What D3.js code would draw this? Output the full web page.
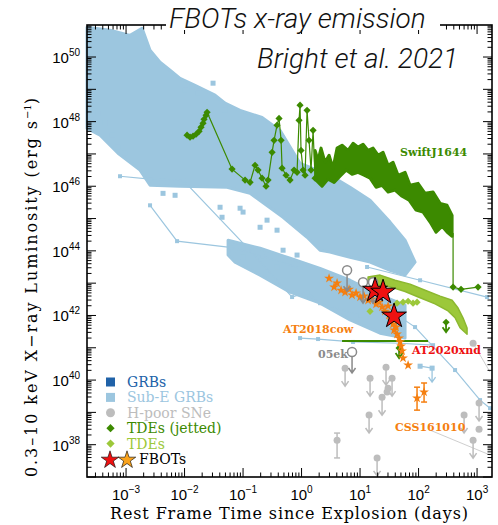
<!DOCTYPE html>
<html>
<head>
<meta charset="utf-8">
<script src="https://cdn.jsdelivr.net/npm/d3@7"></script>
<style>
  body { margin: 0; background: #fff; }
  text { font-family: "DejaVu Serif", serif; }
</style>
</head>
<body>
<div id="chart"></div>
<script>
// every pair is [log10(time / days), log10(L_X / erg s^-1)]
var xTickExp = [-3, -2, -1, 0, 1, 2, 3];
var yTickExp = [38, 40, 42, 44, 46, 48, 50];

// outline of the dense GRB / sub-E GRB cloud
var grbCloud = [[-3.667, 50.92], [-3.274, 50.83], [-2.932, 50.67], [-2.726, 50.89], [-2.590, 50.21],
  [-2.419, 49.84], [-2.248, 49.59], [-2.077, 49.34], [-1.821, 49.12], [-1.479, 48.82], [-1.308, 48.57],
  [-1.051, 48.35], [-0.675, 48.13], [-0.368, 47.73], [-0.162, 47.11], [-0.026, 46.71], [0.487, 46.34],
  [0.829, 45.97], [1.171, 45.57], [1.513, 44.89], [1.769, 44.33], [1.940, 43.65], [1.769, 43.25],
  [1.513, 43.40], [1.171, 43.65], [0.829, 43.80], [0.487, 43.96], [0.316, 44.02], [0.094, 44.42],
  [-0.316, 45.04], [-0.880, 45.78], [-1.274, 45.97], [-2.077, 46.00], [-2.590, 46.03], [-2.761, 46.50],
  [-3.137, 47.02], [-3.444, 47.58], [-3.667, 47.79]];
// lower plateau stream of the cloud
var grbStream = [[-1.256, 44.33], [-0.709, 44.08], [-0.197, 43.77], [0.316, 43.46], [0.829, 43.09],
  [1.342, 42.63], [1.769, 42.32], [1.769, 41.30], [1.342, 41.45], [0.829, 41.86], [0.316, 42.38],
  [-0.197, 42.72], [-0.709, 43.25], [-1.137, 43.65], [-1.256, 43.87]];
var grbStray = [[-2.368, 45.78], [-2.162, 45.72], [-1.393, 45.35], [-1.359, 45.04], [-1.051, 45.32],
  [-1.000, 45.20], [-0.709, 44.73], [-0.590, 44.95], [-0.419, 44.64], [-1.000, 43.80], [-1.171, 44.02],
  [-0.316, 44.02], [-0.419, 43.50], [-0.077, 43.87], [-1.991, 48.97], [-1.872, 49.06], [-1.769, 48.88],
  [-1.513, 49.19], [-1.308, 48.35], [-3.479, 48.26], [-3.359, 47.95], [-3.239, 47.58], [-3.137, 47.21],
  [-3.017, 47.02], [2.026, 40.43], [2.231, 40.37]];
var grbLineA = [[-2.590, 45.41], [-2.128, 44.30], [-1.222, 44.11], [-0.675, 43.84], [-0.026, 43.46]];
var grbLineB = [[-3.103, 46.31], [-2.590, 46.22], [-2.026, 46.19], [-0.932, 44.11], [-0.162, 42.57],
  [0.094, 42.72], [0.316, 42.38], [1.000, 42.01]];
var grbLineC = [[-0.026, 41.30], [0.282, 41.27], [0.880, 41.18], [1.684, 41.14], [2.248, 41.08]];
var grbLineD = [[1.000, 42.79], [1.940, 41.64], [2.624, 40.31], [3.051, 39.38], [3.222, 39.13]];
var grbLineE = [[1.120, 43.50], [2.026, 43.09], [3.171, 42.57]];
var grbLineF = [[2.026, 40.43], [2.231, 40.37]];
var grbLimits = [[2.231, 40.37]];

// Swift J1644+57 (jetted TDE)
var swiftSparse = [[-1.957, 47.58], [-1.906, 47.52], [-1.855, 47.55], [-1.803, 47.61], [-1.752, 47.70],
  [-1.718, 47.83], [-1.684, 47.95], [-1.667, 48.07], [-1.632, 48.20], [-1.615, 48.29], [-1.188, 46.53],
  [-0.966, 46.19], [-0.880, 46.12], [-0.795, 46.65], [-0.744, 46.50], [-0.675, 46.25], [-0.607, 46.00],
  [-0.573, 46.19], [-0.504, 47.05], [-0.470, 47.42], [-0.419, 47.89], [-0.385, 48.10], [-0.350, 47.42],
  [-0.333, 46.56], [-0.265, 46.34], [-0.197, 46.19], [-0.128, 46.50], [-0.077, 46.43], [-0.043, 48.04],
  [-0.026, 48.51], [-0.009, 47.11], [0.026, 46.50], [0.060, 46.34], [0.094, 48.35], [0.128, 47.42],
  [0.162, 46.50], [0.197, 47.73], [0.231, 46.25]];
var swiftDense = [[0.231, 47.11], [0.282, 46.80], [0.333, 47.18], [0.402, 46.74], [0.470, 46.96],
  [0.538, 46.56], [0.607, 47.18], [0.692, 47.27], [0.795, 47.11], [0.880, 47.33], [0.966, 47.21],
  [1.051, 47.30], [1.137, 47.11], [1.222, 47.18], [1.308, 46.96], [1.393, 47.05], [1.479, 46.65],
  [1.564, 46.74], [1.650, 46.34], [1.769, 46.43], [1.855, 46.03], [1.991, 46.09], [2.111, 45.78],
  [2.248, 45.82], [2.368, 45.47], [2.487, 45.41], [2.573, 45.10],
  [2.573, 44.45], [2.487, 44.58], [2.402, 44.76], [2.299, 44.58], [2.197, 44.89], [2.077, 45.20],
  [1.957, 45.26], [1.838, 45.57], [1.718, 45.69], [1.598, 45.88], [1.479, 45.82], [1.376, 46.03],
  [1.274, 45.97], [1.171, 46.25], [1.068, 46.34], [0.966, 46.43], [0.863, 46.37], [0.761, 46.50],
  [0.658, 46.31], [0.556, 46.12], [0.453, 46.22], [0.350, 46.00], [0.248, 46.19]];
var swiftTail = [[2.590, 44.55], [2.590, 42.88], [2.726, 42.81], [3.017, 42.88]];
var jettedLine = [[0.692, 41.21], [2.162, 41.21]];
var jettedLimits = [[2.470, 41.79], [1.667, 40.99]];

// thermal TDEs
var tdeBand = [[1.137, 43.19], [1.342, 43.25], [1.598, 43.09], [1.855, 42.97], [2.111, 42.78],
  [2.368, 42.60], [2.573, 42.47], [2.675, 42.23], [2.761, 41.92], [2.829, 41.61], [2.829, 41.42],
  [2.709, 41.62], [2.624, 41.93], [2.504, 42.14], [2.282, 42.36], [2.026, 42.55], [1.769, 42.74],
  [1.513, 42.89], [1.256, 42.96], [1.137, 43.04]];
var tdePoints = [[1.632, 42.38], [1.735, 42.41], [1.821, 42.44], [1.906, 42.38], [1.974, 42.41], [1.171, 42.13]];

// FBOTs
var at2018cow = [[0.470, 43.15], [0.556, 42.88], [0.607, 43.00], [0.675, 42.78], [0.744, 42.72],
  [0.812, 42.81], [0.863, 42.63], [0.932, 42.69], [1.000, 42.57], [1.068, 42.60], [1.137, 42.47],
  [1.205, 42.51], [1.274, 42.35], [1.325, 42.41], [1.376, 42.26], [1.427, 42.13], [1.479, 42.29],
  [1.496, 42.01], [1.530, 41.86], [1.564, 41.73], [1.581, 41.55], [1.615, 41.64], [1.632, 41.42],
  [1.667, 41.30], [1.684, 41.18], [1.701, 41.05], [1.718, 40.90], [1.735, 40.68], [1.821, 40.46]];
var at2020xnd = [[1.256, 42.78], [1.393, 42.72], [1.581, 41.98]];
var css161010 = [[1.974, 39.44, 39.07, 39.78], [2.094, 39.63, 39.32, 39.91]];

// H-poor SNe
var snOpenLimits = [[0.778, 43.37], [1.051, 43.00], [1.222, 43.00], [0.863, 40.84]];
var snLimits = [[0.744, 40.37], [1.171, 40.06], [1.444, 40.40], [1.547, 40.06], [1.376, 39.47],
  [1.154, 38.92], [1.291, 37.59], [2.778, 38.92], [2.932, 38.14], [3.034, 39.29]];
var snDetections = [[1.462, 39.63], [1.479, 39.75], [3.034, 38.48], [2.932, 41.14]];
var snErrPoints = [[0.607, 38.14, 37.59, 38.36]];
var snLines = [[[2.197, 38.45], [3.222, 37.68]], [[2.932, 41.14], [3.222, 40.25]]];

var legendItems = ["GRBs", "Sub-E GRBs", "H-poor SNe", "TDEs (jetted)", "TDEs", "FBOTs"];

var cLight = "#9cc6df", cDark = "#2062a8", cGrey = "#bdbdbd", cGreyDk = "#8a8a8a",
  cJet = "#3c8a00", cTde = "#9cc83a", cOrange = "#f57f10", cRed = "#ee1111";

var width = 498, height = 525;
var margin = { top: 25, right: 6, bottom: 48, left: 87 };

var x = d3.scaleLog().domain([2.15e-4, 1.8e3]).range([margin.left, width - margin.right]);
var y = d3.scaleLog().domain([1e37, 9.8e50]).range([height - margin.bottom, margin.top]);

function px(d) { return x(Math.pow(10, d[0])); }
function py(d) { return y(Math.pow(10, d[1])); }

var svg = d3.select("#chart").append("svg")
  .attr("width", width).attr("height", height);

var plot = svg.append("g");
var line = d3.line().x(px).y(py);
var poly = d3.line().x(px).y(py).curve(d3.curveLinearClosed);

// thin grey SN lines
snLines.forEach(function (l) {
  plot.append("path").attr("d", line(l)).attr("fill", "none")
    .attr("stroke", "#cfcfcf").attr("stroke-width", 1);
});

// GRB cloud
[grbCloud, grbStream].forEach(function (c) {
  plot.append("path").attr("d", poly(c))
    .attr("fill", cLight).attr("stroke", cLight).attr("stroke-width", 3)
    .attr("stroke-linejoin", "round");
});
plot.selectAll("rect.stray").data(grbStray).enter().append("rect")
  .attr("x", function (d) { return px(d) - 2.5; })
  .attr("y", function (d) { return py(d) - 2.5; })
  .attr("width", 5).attr("height", 5).attr("fill", cLight);

[grbLineA, grbLineB, grbLineC, grbLineD, grbLineE, grbLineF].forEach(function (l) {
  plot.append("path").attr("d", line(l)).attr("fill", "none")
    .attr("stroke", cLight).attr("stroke-width", 1.2);
  plot.selectAll(null).data(l).enter().append("rect")
    .attr("x", function (d) { return px(d) - 2; })
    .attr("y", function (d) { return py(d) - 2; })
    .attr("width", 4).attr("height", 4).attr("fill", cLight);
});

function arrow(g, d, len, color, w) {
  var x0 = px(d), y0 = py(d);
  g.append("path")
    .attr("d", "M" + x0 + "," + y0 + "V" + (y0 + len) +
      "M" + (x0 - 3.5) + "," + (y0 + len - 5) + "L" + x0 + "," + (y0 + len) + "L" + (x0 + 3.5) + "," + (y0 + len - 5))
    .attr("fill", "none").attr("stroke", color).attr("stroke-width", w || 1.3);
}

grbLimits.forEach(function (d) { arrow(plot, d, 14, cLight); });

// H-poor SNe
snLimits.forEach(function (d) { arrow(plot, d, 18, cGrey, 1.5); });
plot.selectAll("circle.snl").data(snLimits.concat(snDetections)).enter().append("circle")
  .attr("cx", px).attr("cy", py).attr("r", 3.5).attr("fill", cGrey);
snErrPoints.forEach(function (d) {
  plot.append("line").attr("x1", px(d)).attr("x2", px(d))
    .attr("y1", y(Math.pow(10, d[2]))).attr("y2", y(Math.pow(10, d[3])))
    .attr("stroke", cGrey).attr("stroke-width", 1.5);
  [d[2], d[3]].forEach(function (v) {
    plot.append("line").attr("x1", px(d) - 3).attr("x2", px(d) + 3)
      .attr("y1", y(Math.pow(10, v))).attr("y2", y(Math.pow(10, v)))
      .attr("stroke", cGrey).attr("stroke-width", 1.5);
  });
  plot.append("circle").attr("cx", px(d)).attr("cy", py(d)).attr("r", 3.5).attr("fill", cGrey);
});

// Swift J1644
plot.append("path").attr("d", line(swiftSparse.concat([swiftDense[0]])))
  .attr("fill", "none").attr("stroke", cJet).attr("stroke-width", 1.2);
plot.append("path").attr("d", poly(swiftDense))
  .attr("fill", cJet).attr("stroke", cJet).attr("stroke-width", 3).attr("stroke-linejoin", "round");
plot.append("path").attr("d", line(swiftTail))
  .attr("fill", "none").attr("stroke", cJet).attr("stroke-width", 1.2);
var diamond = d3.symbol().type(d3.symbolSquare).size(26);
plot.selectAll("path.sw").data(swiftSparse.concat(swiftTail.slice(1))).enter().append("path")
  .attr("d", diamond)
  .attr("transform", function (d) { return "translate(" + px(d) + "," + py(d) + ") rotate(45)"; })
  .attr("fill", cJet);
plot.append("path").attr("d", line(jettedLine)).attr("stroke", cJet).attr("stroke-width", 2.2);
jettedLimits.forEach(function (d) { arrow(plot, d, 10, cJet, 1.8); });
plot.selectAll("path.jl").data(jettedLimits).enter().append("path")
  .attr("d", diamond)
  .attr("transform", function (d) { return "translate(" + px(d) + "," + py(d) + ") rotate(45)"; })
  .attr("fill", cJet);

// TDEs
plot.append("path").attr("d", poly(tdeBand))
  .attr("fill", cTde).attr("stroke", "#8cb830").attr("stroke-width", 1.5).attr("stroke-linejoin", "round");
plot.selectAll("path.td").data(tdePoints).enter().append("path")
  .attr("d", d3.symbol().type(d3.symbolSquare).size(26))
  .attr("transform", function (d) { return "translate(" + px(d) + "," + py(d) + ") rotate(45)"; })
  .attr("fill", cTde);

// AT2018cow
var smallStar = d3.symbol().type(d3.symbolStar).size(30);
plot.selectAll("path.cow").data(at2018cow).enter().append("path")
  .attr("d", smallStar)
  .attr("transform", function (d) { return "translate(" + px(d) + "," + py(d) + ")"; })
  .attr("fill", cOrange);

// CSS161010
css161010.forEach(function (d) {
  var x0 = px(d);
  plot.append("line").attr("x1", x0).attr("x2", x0)
    .attr("y1", y(Math.pow(10, d[2]))).attr("y2", y(Math.pow(10, d[3])))
    .attr("stroke", cOrange).attr("stroke-width", 1.5);
  [d[2], d[3]].forEach(function (v) {
    plot.append("line").attr("x1", x0 - 3).attr("x2", x0 + 3)
      .attr("y1", y(Math.pow(10, v))).attr("y2", y(Math.pow(10, v)))
      .attr("stroke", cOrange).attr("stroke-width", 1.5);
  });
  plot.append("path").attr("d", smallStar)
    .attr("transform", "translate(" + x0 + "," + py(d) + ")").attr("fill", cOrange);
});

// open-circle SN limits
snOpenLimits.forEach(function (d) {
  arrow(plot, d, 20, cGreyDk, 1.5);
  plot.append("circle").attr("cx", px(d)).attr("cy", py(d) - 1).attr("r", 4.5)
    .attr("fill", "#fff").attr("stroke", cGreyDk).attr("stroke-width", 1.5);
});

// AT2020xnd
plot.selectAll("path.xnd").data(at2020xnd).enter().append("path")
  .attr("d", d3.symbol().type(d3.symbolStar).size(190))
  .attr("transform", function (d) { return "translate(" + px(d) + "," + py(d) + ")"; })
  .attr("fill", cRed).attr("stroke", "#000").attr("stroke-width", 1);

// annotations
var notes = [
  { t: "SwiftJ1644", x: 400, y: 156, c: cJet },
  { t: "AT2018cow", x: 283, y: 333, c: cOrange },
  { t: "AT2020xnd", x: 412, y: 354, c: cRed },
  { t: "05ek", x: 318, y: 358, c: cGreyDk },
  { t: "CSS161010", x: 395, y: 431, c: cOrange }
];
svg.selectAll("text.note").data(notes).enter().append("text")
  .attr("x", function (d) { return d.x; }).attr("y", function (d) { return d.y; })
  .attr("fill", function (d) { return d.c; })
  .style("font-size", "11px").style("font-weight", "bold")
  .text(function (d) { return d.t; });

// legend
var lg = svg.append("g");
var legendColors = [cDark, cLight, cGrey, cJet, cTde, "#000"];
legendItems.forEach(function (name, i) {
  var yy = 382 + i * 15.4;
  if (i < 2) {
    lg.append("rect").attr("x", 106).attr("y", yy - 4.5).attr("width", 9).attr("height", 9).attr("fill", legendColors[i]);
  } else if (i === 2) {
    lg.append("circle").attr("cx", 110.5).attr("cy", yy).attr("r", 4.5).attr("fill", cGrey);
  } else if (i < 5) {
    lg.append("path").attr("d", d3.symbol().type(d3.symbolSquare).size(34))
      .attr("transform", "translate(110.5," + yy + ") rotate(45)").attr("fill", legendColors[i]);
  } else {
    lg.append("path").attr("d", d3.symbol().type(d3.symbolStar).size(95))
      .attr("transform", "translate(110," + (yy + 1) + ")").attr("fill", cRed).attr("stroke", "#000").attr("stroke-width", 0.6);
    lg.append("path").attr("d", d3.symbol().type(d3.symbolStar).size(95))
      .attr("transform", "translate(127," + (yy + 1) + ")").attr("fill", "#f9a31d").attr("stroke", "#000").attr("stroke-width", 0.6);
  }
  lg.append("text").attr("x", i === 5 ? 139 : 127).attr("y", yy + 5)
    .attr("fill", legendColors[i]).style("font-size", "14px").text(name);
});

// frame and ticks
var x0 = margin.left, x1 = width - margin.right, y0 = margin.top, y1 = height - margin.bottom;
var axes = svg.append("g").attr("stroke", "#000").attr("fill", "none");
for (var e = -4; e <= 3; e++) {
  for (var k = 1; k <= 9; k++) {
    var v = k * Math.pow(10, e);
    if (v < x.domain()[0] || v > x.domain()[1]) continue;
    var len = k === 1 ? 9 : 4.5, xx = x(v);
    axes.append("line").attr("x1", xx).attr("x2", xx).attr("y1", y1).attr("y2", y1 - len).attr("stroke-width", 1);
    axes.append("line").attr("x1", xx).attr("x2", xx).attr("y1", y0).attr("y2", y0 + len).attr("stroke-width", 1);
  }
}
for (var e2 = 37; e2 <= 50; e2++) {
  for (var k2 = 1; k2 <= 9; k2++) {
    var v2 = k2 * Math.pow(10, e2);
    if (v2 < y.domain()[0] || v2 > y.domain()[1]) continue;
    var len2 = k2 === 1 ? 9 : 4.5, yy2 = y(v2);
    axes.append("line").attr("x1", x0).attr("x2", x0 + len2).attr("y1", yy2).attr("y2", yy2).attr("stroke-width", 1);
    axes.append("line").attr("x1", x1).attr("x2", x1 - len2).attr("y1", yy2).attr("y2", yy2).attr("stroke-width", 1);
  }
}
axes.append("rect").attr("x", x0).attr("y", y0).attr("width", x1 - x0).attr("height", y1 - y0)
  .attr("stroke-width", 1.6);

// tick labels
var xl = svg.selectAll("text.xt").data(xTickExp).enter().append("text")
  .attr("x", function (d) { return x(Math.pow(10, d)); }).attr("y", 500)
  .attr("text-anchor", "middle")
  .style("font-family", "'Liberation Sans', sans-serif").style("font-size", "15px");
xl.append("tspan").text("10");
xl.append("tspan").attr("dy", -7).style("font-size", "10px").text(function (d) { return d < 0 ? "\u2212" + (-d) : d; });

var yl = svg.selectAll("text.yt").data(yTickExp).enter().append("text")
  .attr("x", 80).attr("y", function (d) { return y(Math.pow(10, d)) + 6; })
  .attr("text-anchor", "end")
  .style("font-family", "'Liberation Sans', sans-serif").style("font-size", "15px");
yl.append("tspan").text("10");
yl.append("tspan").attr("dy", -7).style("font-size", "10px").text(function (d) { return d; });

// axis titles
svg.append("text").attr("x", 110).attr("y", 519)
  .attr("textLength", 358).attr("lengthAdjust", "spacing")
  .style("font-size", "16px").text("Rest Frame Time since Explosion (days)");
var yt = svg.append("text").attr("transform", "translate(37,477) rotate(-90)")
  .style("font-size", "16px");
yt.append("tspan").attr("textLength", 356).attr("lengthAdjust", "spacing")
  .text("0.3\u201310 keV X\u2212ray Luminosity (erg s");
yt.append("tspan").attr("dy", -6).style("font-size", "10px").text("\u22121");
yt.append("tspan").attr("dy", 6).text(")");

// title overlay
svg.append("rect").attr("x", 166).attr("y", 20).attr("width", 274).attr("height", 10).attr("fill", "#fff");
svg.append("text").attr("x", 169).attr("y", 28)
  .style("font-family", "Roboto, sans-serif").style("font-weight", 300).style("font-style", "italic")
  .style("font-size", "28px").attr("fill", "#111").text("FBOTs x-ray emission");
svg.append("text").attr("x", 257).attr("y", 68)
  .style("font-family", "Roboto, sans-serif").style("font-weight", 300).style("font-style", "italic")
  .style("font-size", "28px").attr("fill", "#111").text("Bright et al. 2021");
</script>
</body>
</html>
